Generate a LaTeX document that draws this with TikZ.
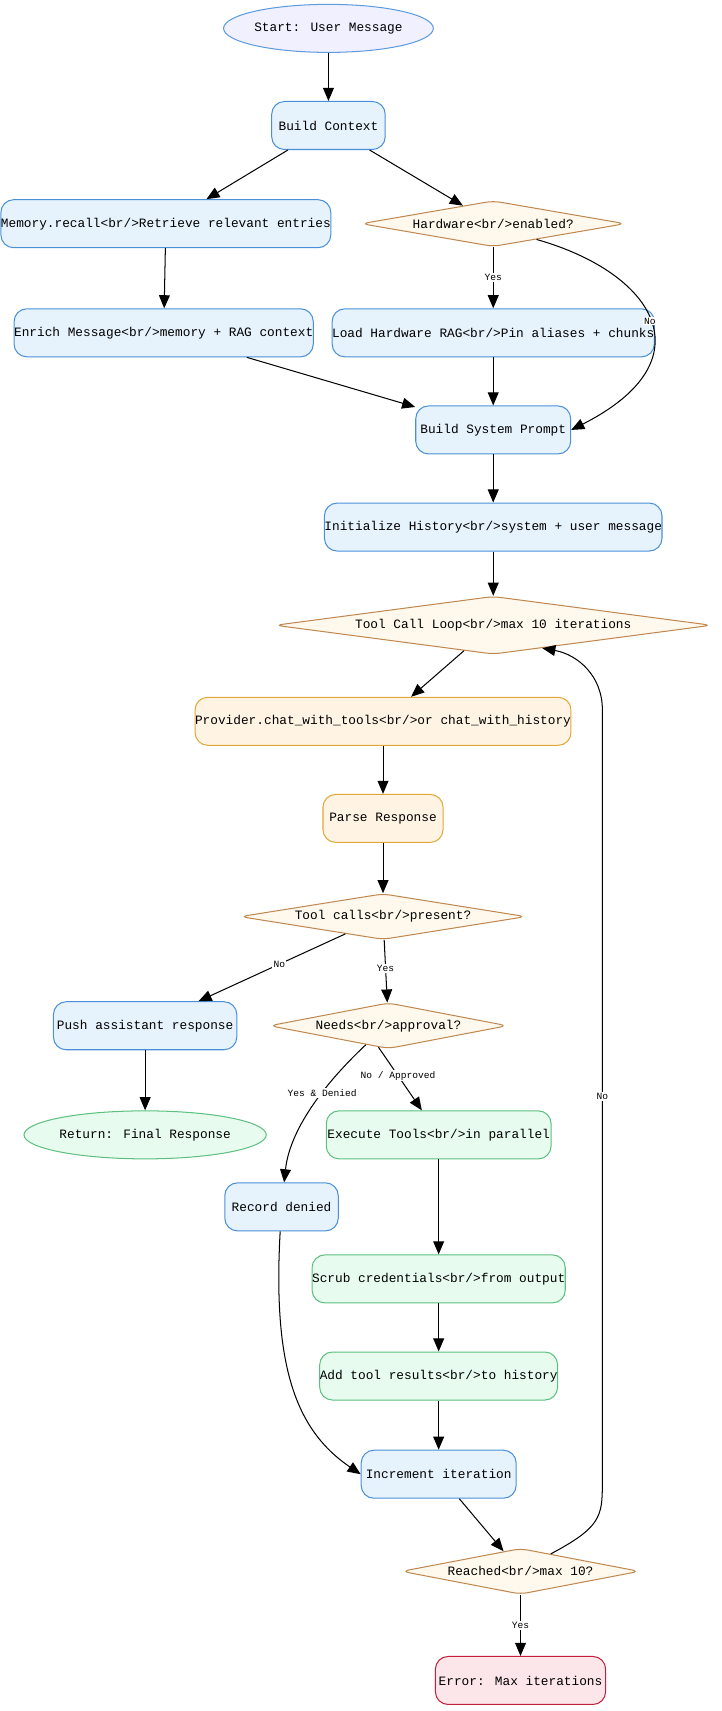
\documentclass[tikz,border=0pt]{standalone}
\usepackage{fontspec}
\setmainfont{Liberation Mono}
\usetikzlibrary{arrows.meta,shapes.geometric}
\definecolor{boxblue}{HTML}{E6F2FC}
\definecolor{lineblue}{HTML}{4A90D9}
\definecolor{boxorange}{HTML}{FFF4E4}
\definecolor{lineorange}{HTML}{E0A838}
\definecolor{boxdia}{HTML}{FFF8EC}
\definecolor{linedia}{HTML}{C08850}
\definecolor{boxgreen}{HTML}{E8FBEF}
\definecolor{linegreen}{HTML}{5CC080}
\definecolor{boxred}{HTML}{FDE6E9}
\definecolor{linered}{HTML}{C0203A}
\tikzset{
  base/.style={font=\fontsize{10}{12}\selectfont, inner sep=0pt, thick},
  bluebox/.style={base, draw=lineblue, fill=boxblue, rounded corners=3.5mm, minimum height=13.2mm},
  orangebox/.style={bluebox, draw=lineorange, fill=boxorange},
  greenbox/.style={bluebox, draw=linegreen, fill=boxgreen},
  redbox/.style={bluebox, draw=linered, fill=boxred},
  question/.style={base, diamond, aspect=6, draw=linedia, fill=boxdia, minimum height=12.6mm, rounded corners=2mm},
  terminal/.style={base, ellipse, minimum height=13.2mm},
  arr/.style={-{Triangle[length=3.6mm,width=3mm]}, thick},
  lbl/.style={font=\fontsize{7.5}{9}\selectfont, fill=white, inner sep=1pt}
}
\begin{document}
\begin{tikzpicture}[x=0.03cm, y=-0.03cm]
  \useasboundingbox (0,0) rectangle (661,1568);
  % top part
  \node[terminal, draw=lineblue!90, fill=blue!6, minimum width=49.8mm] (start) at (301,26) {Start: User Message};
  \node[bluebox, minimum width=31.2mm] (ctx) at (301,115) {Build Context};
  \node[bluebox, minimum width=88.8mm] (recall) at (152,205) {Memory.recall<br/>Retrieve relevant entries};
  \node[question, minimum width=72.6mm] (hw) at (452,205) {Hardware<br/>enabled?};
  \node[bluebox, minimum width=81mm] (enrich) at (150,305) {Enrich Message<br/>memory + RAG context};
  \node[bluebox, minimum width=87mm] (loadhw) at (452,305) {Load Hardware RAG<br/>Pin aliases + chunks};
  \node[bluebox, minimum width=42.6mm] (sysprompt) at (452,394) {Build System Prompt};
  \node[bluebox, minimum width=90.6mm] (history) at (452,483) {Initialize History<br/>system + user message};
  % tool loop
  \node[question, minimum width=120mm] (loop) at (452,573) {Tool Call Loop<br/>max 10 iterations};
  \node[orangebox, minimum width=100.2mm] (provider) at (351,661) {Provider.chat\_with\_tools<br/>or chat\_with\_history};
  \node[orangebox, minimum width=33mm] (parse) at (351,750) {Parse Response};
  \node[question, minimum width=78.6mm] (calls) at (351,840) {Tool calls<br/>present?};
  \node[bluebox, minimum width=50.4mm] (push) at (133,940) {Push assistant response};
  \node[question, minimum width=65.4mm] (approval) at (356,940) {Needs<br/>approval?};
  \node[terminal, draw=linegreen, fill=boxgreen, minimum width=57mm] (final) at (133,1040) {Return: Final Response};
  \node[greenbox, minimum width=61.8mm] (exec) at (402,1040) {Execute Tools<br/>in parallel};
  \node[bluebox, minimum width=31.2mm] (denied) at (258,1106) {Record denied};
  \node[greenbox, minimum width=69.6mm] (scrub) at (402,1172) {Scrub credentials<br/>from output};
  \node[greenbox, minimum width=65.4mm] (results) at (402,1261) {Add tool results<br/>to history};
  \node[bluebox, minimum width=42.6mm] (incr) at (402,1351) {Increment iteration};
  \node[question, minimum width=65.4mm] (reached) at (477,1440) {Reached<br/>max 10?};
  \node[redbox, minimum width=46.8mm] (error) at (477,1540) {Error: Max iterations};
  % connectors
  \draw[arr] (start) -- (ctx);
  \draw[arr] (ctx) -- (recall);
  \draw[arr] (ctx) -- (hw);
  \draw[arr] (recall) -- (enrich);
  \draw[arr] (hw) -- node[lbl] {Yes} (loadhw);
  \draw[arr] (hw.-20) .. controls (600,250) and (650,330) .. node[lbl, pos=0.5] {No} (sysprompt.east);
  \draw[arr] (enrich) -- (sysprompt);
  \draw[arr] (loadhw) -- (sysprompt);
  \draw[arr] (sysprompt) -- (history);
  \draw[arr] (history) -- (loop);
  \draw[arr] (loop) -- (provider);
  \draw[arr] (provider) -- (parse);
  \draw[arr] (parse) -- (calls);
  \draw[arr] (calls) -- node[lbl, pos=0.45] {No} (push);
  \draw[arr] (calls) -- node[lbl, pos=0.45] {Yes} (approval);
  \draw[arr] (push) -- (final);
  \draw[arr] (approval.-115) -- node[lbl, pos=0.45] {No / Approved} (exec);
  \draw[arr] (approval.-140) .. controls (290,1000) and (265,1040) .. node[lbl, pos=0.35] {Yes \& Denied} (denied);
  \draw[arr] (exec) -- (scrub);
  \draw[arr] (scrub) -- (results);
  \draw[arr] (results) -- (incr);
  \draw[arr] (denied) .. controls (250,1250) and (270,1310) .. (incr.west);
  \draw[arr] (incr) -- (reached);
  \draw[arr] (reached) -- node[lbl] {Yes} (error);
  \draw[arr] (reached.30) .. controls (550,1400) and (552,1390) .. (552,1360)
    -- node[lbl] {No} (552,650) .. controls (552,620) and (530,600) .. (loop.-25);
\end{tikzpicture}
\end{document}
